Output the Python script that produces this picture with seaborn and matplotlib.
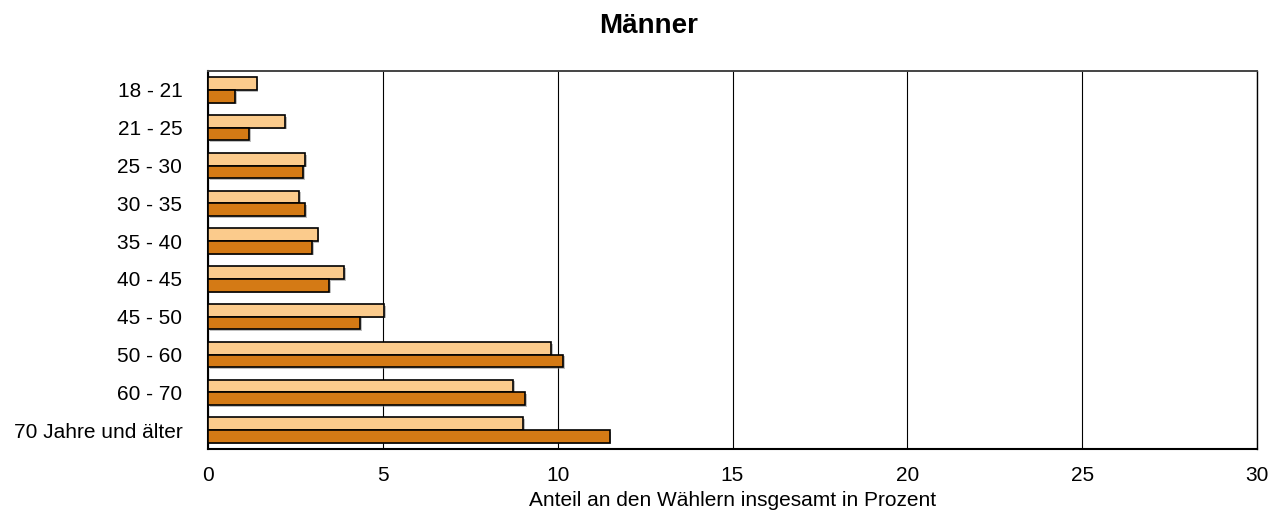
import matplotlib.pyplot as plt
import matplotlib.patheffects as pe
import seaborn as sns
import pandas as pd
import numpy as np

altersgruppen = ['18 - 21', '21 - 25', '25 - 30', '30 - 35', '35 - 40',
                 '40 - 45', '45 - 50', '50 - 60', '60 - 70', '70 Jahre und älter']
anteil_hell = [1.39, 2.2, 2.78, 2.6, 3.14, 3.9, 5.04, 9.82, 8.72, 9.01]
anteil_dunkel = [0.77, 1.18, 2.72, 2.78, 2.98, 3.47, 4.36, 10.15, 9.07, 11.49]
serien = ['Serie 1', 'Serie 2']

df = pd.DataFrame({
    'gruppe': altersgruppen * 2,
    'anteil': anteil_hell + anteil_dunkel,
    'serie': [serien[0]] * len(altersgruppen) + [serien[1]] * len(altersgruppen),
})

sns.set_style('white')
plt.rcParams['font.family'] = ['Liberation Sans', 'DejaVu Sans']
plt.rcParams['text.color'] = 'black'
plt.rcParams['xtick.color'] = 'black'
plt.rcParams['ytick.color'] = 'black'
plt.rcParams['axes.labelcolor'] = 'black'

fig = plt.figure(figsize=(12.79, 5.18), dpi=100)
ax = fig.add_axes([208 / 1279, 1 - 449 / 518, 1049 / 1279, 378 / 518])

sns.barplot(data=df, x='anteil', y='gruppe', hue='serie', orient='h',
            palette=['#FBCB8C', '#D47A15'], saturation=1, width=0.67, dodge=True,
            edgecolor='black', linewidth=1.2, ax=ax, legend=False, zorder=3)

# leichter Schatten wie im Original
for p in ax.patches:
    p.set_path_effects([pe.SimplePatchShadow(offset=(1.2, -1.2), shadow_rgbFace='gray', alpha=0.5),
                        pe.Normal()])

ax.set_xlim(0, 30)
ax.set_ylim(len(altersgruppen) - 0.5, -0.5)
ax.set_xticks(range(0, 31, 5))
ax.set_xticks(range(0, 31), minor=True)
ax.xaxis.grid(True, which='major', color='black', linewidth=0.8, zorder=0)
ax.yaxis.grid(False)
for s in ax.spines.values():
    s.set_color('black')
    s.set_linewidth(1.0)
ax.spines['bottom'].set_linewidth(1.5)
ax.spines['left'].set_linewidth(1.5)
ax.spines['top'].set_color('#444444')
ax.spines['top'].set_linewidth(1.4)

ax.set_yticks(range(len(altersgruppen)))
ax.set_yticklabels(altersgruppen)
ax.set_yticks(np.arange(0.5, len(altersgruppen) - 0.5, 1), minor=True)
ax.tick_params(axis='y', which='major', length=0, pad=18.5, labelsize=15)
ax.tick_params(axis='y', which='minor', length=2.5, direction='in', width=1)
ax.tick_params(axis='x', which='major', length=4.5, width=1, direction='out', pad=8, labelsize=15)
ax.tick_params(axis='x', which='minor', length=1.5, width=0.8, direction='out')

ax.set_ylabel('')
ax.set_xlabel('Anteil an den Wählern insgesamt in Prozent', fontsize=15, labelpad=4)
fig.suptitle('Männer', fontsize=20, fontweight='bold', x=0.507, y=0.975)

fig.savefig('out.png', dpi=100)
